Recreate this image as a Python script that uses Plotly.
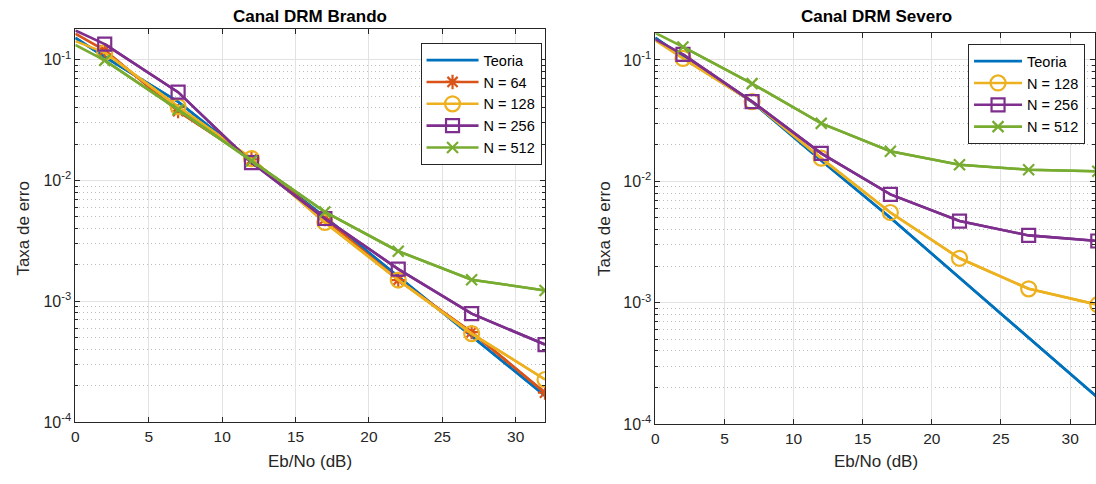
import plotly.graph_objects as go

eb_no = [0, 2, 7, 12, 17, 22, 27, 32]
teoria = [0.152, 0.106, 0.045, 0.0148, 0.0050, 0.00160, 0.00051, 0.000165]
brando_64 = [0.165, 0.120, 0.0376, 0.0150, 0.0048, 0.00150, 0.000555, 0.000175]
brando_128 = [0.143, 0.115, 0.041, 0.0152, 0.0045, 0.00150, 0.00054, 0.000225]
brando_256 = [0.175, 0.135, 0.054, 0.0141, 0.00485, 0.00185, 0.00079, 0.000438]
brando_512 = [0.133, 0.099, 0.0387, 0.01455, 0.0055, 0.0026, 0.00151, 0.00123]
severo_128 = [0.145, 0.103, 0.0454, 0.0155, 0.00553, 0.00232, 0.0013, 0.00096]
severo_256 = [0.148, 0.111, 0.0454, 0.0170, 0.0078, 0.0047, 0.00358, 0.00322]
severo_512 = [0.167, 0.128, 0.0638, 0.030, 0.0177, 0.0137, 0.01245, 0.0121]

y_ticks = [1e-4, 1e-3, 1e-2, 1e-1]
y_ticktext = ["10<sup>-4</sup>", "10<sup>-3</sup>", "10<sup>-2</sup>", "10<sup>-1</sup>"]
x_ticks = [0, 5, 10, 15, 20, 25, 30]
minor_vals = [k * 10 ** e for e in range(-4, 0) for k in range(2, 10)]

BLUE = "#0072BD"
RED = "#D95319"
YEL = "#EDB120"
PUR = "#7E2F8E"
GRN = "#77AC30"
AX = "#262626"
FONT = "Liberation Sans, Arial, sans-serif"

W, H = 1096, 484

fig = go.Figure()


def add_series(y, name, color, symbol, size, xa, ya, leg):
    fig.add_trace(go.Scatter(x=eb_no, y=y, mode="lines", line=dict(color=color, width=2.6),
                             showlegend=False, xaxis=xa, yaxis=ya, hoverinfo="skip"))
    if symbol is None:
        fig.add_trace(go.Scatter(x=eb_no, y=y, mode="lines", name=name,
                                 line=dict(color=color, width=2.6), xaxis=xa, yaxis=ya, legend=leg))
    else:
        fig.add_trace(go.Scatter(x=eb_no[1:], y=y[1:], mode="lines+markers", name=name,
                                 line=dict(color=color, width=2.6),
                                 marker=dict(symbol=symbol, size=size, color=color,
                                             line=dict(color=color, width=2.2)),
                                 xaxis=xa, yaxis=ya, legend=leg))


add_series(teoria, "Teoria", BLUE, None, 0, "x", "y", "legend")
add_series(brando_64, "N = 64", RED, "asterisk-open", 12, "x", "y", "legend")
add_series(brando_128, "N = 128", YEL, "circle-open", 15, "x", "y", "legend")
add_series(brando_256, "N = 256", PUR, "square-open", 13, "x", "y", "legend")
add_series(brando_512, "N = 512", GRN, "x-thin-open", 11, "x", "y", "legend")

add_series(teoria, "Teoria", BLUE, None, 0, "x2", "y2", "legend2")
add_series(severo_128, "N = 128", YEL, "circle-open", 15, "x2", "y2", "legend2")
add_series(severo_256, "N = 256", PUR, "square-open", 13, "x2", "y2", "legend2")
add_series(severo_512, "N = 512", GRN, "x-thin-open", 11, "x2", "y2", "legend2")


def xaxis_style(domain, rng, anchor):
    return dict(domain=domain, range=rng, anchor=anchor, tickvals=x_ticks,
                ticks="inside", ticklen=5, tickcolor=AX, showline=True, linecolor=AX,
                linewidth=1, mirror="allticks", showgrid=True, gridcolor="#e2e2e2",
                gridwidth=1, zeroline=False, tickfont=dict(size=15.5, color=AX, family=FONT))


def yaxis_style(domain, rng, anchor):
    return dict(domain=domain, type="log", range=rng, anchor=anchor, tickvals=y_ticks,
                ticktext=y_ticktext, ticks="inside", ticklen=5, tickcolor=AX, showline=True,
                linecolor=AX, linewidth=1, mirror="allticks", showgrid=True,
                gridcolor="#e2e2e2", gridwidth=1, zeroline=False,
                tickfont=dict(size=16, color=AX, family=FONT),
                minor=dict(tickvals=minor_vals, ticks="inside", ticklen=3, tickcolor=AX,
                           showgrid=True, gridcolor="#bdbdbd", griddash="1px,3px", gridwidth=1))


fig.update_layout(
    width=W, height=H, margin=dict(l=0, r=0, t=0, b=0),
    paper_bgcolor="white", plot_bgcolor="white",
    font=dict(family=FONT, color=AX, size=14),
    xaxis=xaxis_style([71.7 / W, 543.5 / W], [0, 32], "y"),
    yaxis=yaxis_style([(H - 430) / H, (H - 30) / H], [-4, -0.748], "x"),
    xaxis2=xaxis_style([654.3 / W, 1.0], [0, 32 * (W - 654.3) / 444.5], "y2"),
    yaxis2=yaxis_style([(H - 432) / H, (H - 34) / H], [-4, -0.781], "x2"),
    legend=dict(x=540 / W, y=(H - 44) / H, xanchor="right", yanchor="top",
                bgcolor="white", bordercolor=AX, borderwidth=1,
                font=dict(size=14.5, color="black", family=FONT), tracegroupgap=0,
                itemwidth=52),
    legend2=dict(x=1086 / W, y=(H - 45) / H, xanchor="right", yanchor="top",
                 bgcolor="white", bordercolor=AX, borderwidth=1,
                 font=dict(size=14.5, color="black", family=FONT), tracegroupgap=0,
                 itemwidth=48),
    showlegend=True,
)

annos = [
    dict(text="<b>Canal DRM Brando</b>", x=307 / W, y=(H - 17) / H, size=17),
    dict(text="<b>Canal DRM Severo</b>", x=876 / W, y=(H - 17) / H, size=17),
    dict(text="Eb/No (dB)", x=307 / W, y=(H - 470) / H, size=17),
    dict(text="Eb/No (dB)", x=876 / W, y=(H - 470) / H, size=17),
]
for a in annos:
    fig.add_annotation(text=a["text"], x=a["x"], y=a["y"], xref="paper", yref="paper",
                       showarrow=False, xanchor="center", yanchor="middle",
                       font=dict(size=a["size"], color="black" if "<b>" in a["text"] else AX,
                                 family=FONT))
for xp, yp in [(20, 232), (603, 233)]:
    fig.add_annotation(text="Taxa de erro", x=xp / W, y=(H - yp) / H, xref="paper", yref="paper",
                       showarrow=False, textangle=-90, xanchor="center", yanchor="middle",
                       font=dict(size=17, color=AX, family=FONT))

fig.write_html("out.html")
